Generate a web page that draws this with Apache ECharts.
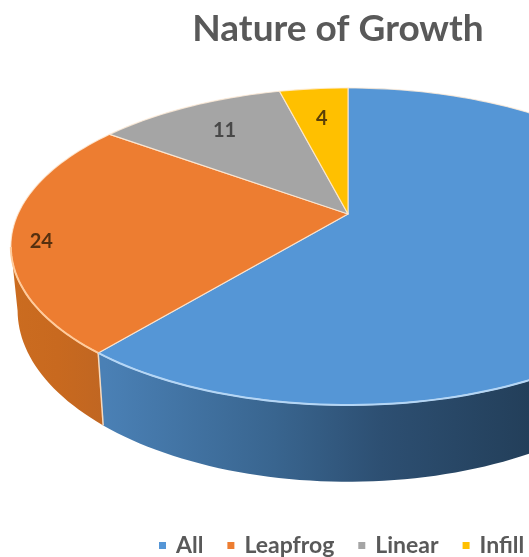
<!DOCTYPE html>
<html>
<head>
<meta charset="utf-8">
<style>html,body{margin:0;padding:0;background:#fff}#chart{width:529px;height:557px;overflow:hidden}</style>
<script src="https://cdn.jsdelivr.net/npm/echarts@6/dist/echarts.min.js"></script>
</head>
<body>
<div id="chart"></div>
<script>
// Growth types and their counts
const categories = ['All', 'Leapfrog', 'Linear', 'Infill'];
const counts = [61, 24, 11, 4];

// Slice appearance
const topColors = ['#5596D6', '#ED7D31', '#A5A5A5', '#FFC000'];
const rimColors = ['#B4D6F6', '#FFCB9C', '#D0D0D0', '#FFE08A'];
const wallStops = [
  [[0, '#4A80B5'], [0.4, '#39658F'], [0.65, '#2D4F72'], [1, '#233F5A']],
  [[0, '#CB6C20'], [0.5, '#C8691F'], [1, '#C06622']],
  [[0, '#808080'], [1, '#808080']],
  [[0, '#C09000'], [1, '#C09000']]
];
const labelColors = [null, '#56300F', '#484848', '#5A3F08'];
const labelReach = [null, 0.913, 0.75, 0.73];
const labelNudge = [0, -1.1, 0, 0];

// Perspective of the tilted disc
const hubX = 348, hubY = 214, spreadX = 330, spreadY = 108, recede = 0.205;
const wallDepth = 61, wallShrink = 0.98;
const frontFrom = 102, frontTo = 258;

const total = counts.reduce((a, b) => a + b, 0);
const starts = counts.map((_, i) => counts.slice(0, i).reduce((a, b) => a + b, 0) / total * 360);

function project(radius, deg, lower) {
  const t = deg * Math.PI / 180;
  const x = radius * Math.sin(t), y = radius * Math.cos(t);
  const d = 1 + recede * y;
  const px = spreadX * x / d;
  const py = (hubY - spreadY * y) / d;
  return lower ? [hubX + px * wallShrink, py + wallDepth / d] : [hubX + px, py];
}

function arc(from, to, lower) {
  const pts = [];
  const n = Math.max(2, Math.ceil(Math.abs(to - from) / 1.5));
  for (let i = 0; i <= n; i++) pts.push(project(1, from + (to - from) * i / n, lower));
  return pts;
}

function renderSlice(index) {
  return function (params, api) {
    const sweep = api.value(0) / total * 360;
    const a0 = starts[index], a1 = a0 + sweep;
    const children = [];

    // Outer wall, only where it faces the viewer
    const w0 = Math.max(a0, frontFrom), w1 = Math.min(a1, frontTo);
    if (w1 > w0) {
      const wall = arc(w0, w1, false).concat(arc(w0, w1, true).reverse());
      children.push({
        type: 'polygon', z2: 1, shape: { points: wall },
        style: {
          fill: new echarts.graphic.LinearGradient(
            index === 0 ? 105 : 10, 0, index === 0 ? 529 : 105, 0,
            wallStops[index].map(s => ({ offset: s[0], color: s[1] })), true)
        }
      });
      children.push({
        type: 'polyline', z2: 12, shape: { points: arc(w0, w1, false) },
        style: { fill: null, stroke: rimColors[index], lineWidth: 2 }
      });
      if (a1 > frontFrom && a1 < frontTo) {
        children.push({
          type: 'polyline', z2: 5,
          shape: { points: [project(1, a1, false), project(1, a1, true)] },
          style: { fill: null, stroke: '#F6D9BE', lineWidth: 1.5 }
        });
      }
    }

    // Top face
    children.push({
      type: 'polygon', z2: 10,
      shape: { points: [project(0, 0, false)].concat(arc(a0, a1, false)) },
      style: { fill: topColors[index], stroke: 'rgba(255,236,216,0.8)', lineWidth: 1.2, lineJoin: 'round' }
    });

    // Count label
    if (labelReach[index] !== null) {
      const mid = (a0 + a1) / 2 + labelNudge[index] * 3.6;
      const p = project(labelReach[index], mid, false);
      children.push({
        type: 'text', z2: 20, x: p[0], y: p[1],
        style: {
          text: String(api.value(0)), fill: labelColors[index],
          font: 'bold 20px Lato', align: 'center', verticalAlign: 'middle'
        }
      });
    }
    return { type: 'group', children };
  };
}

const chart = echarts.init(document.getElementById('chart'), null, { renderer: 'canvas' });
chart.setOption({
  animation: false,
  backgroundColor: '#ffffff',
  title: {
    text: 'Nature of Growth', left: 333, top: 6, textAlign: 'center',
    textStyle: { fontFamily: 'Lato', fontWeight: 'bold', fontSize: 37, color: '#595959' }
  },
  legend: {
    data: categories, left: 154, top: 529, width: 500, icon: 'rect', itemWidth: 7, itemHeight: 7, itemGap: 24,
    textStyle: { fontFamily: 'Lato', fontWeight: 'bold', fontSize: 23, color: '#595959', padding: [0, 0, 0, 5] }
  },
  series: categories.map((name, i) => ({
    type: 'custom', name, coordinateSystem: 'none', silent: true,
    itemStyle: { color: topColors[i] },
    data: [[counts[i]]],
    renderItem: renderSlice(i)
  }))
});
</script>
</body>
</html>
